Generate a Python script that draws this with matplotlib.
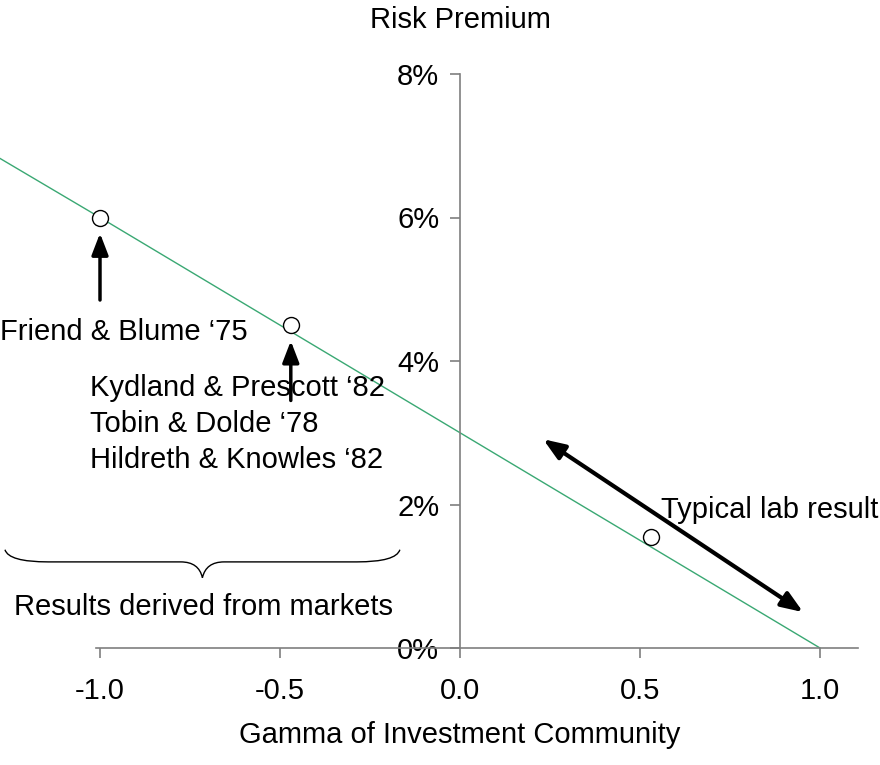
import numpy as np
import matplotlib.pyplot as plt
from matplotlib.path import Path
from matplotlib import patches

plt.rcParams['font.family'] = ['Liberation Sans', 'DejaVu Sans']

# line: risk premium vs gamma
gamma_line = [-1.28, -1.0, -0.5, 0.0, 0.5, 1.0]
premium_line = [6.83, 6.0, 4.5, 3.0, 1.5, 0.0]

# study results
gamma_pts = [-1.0, -0.47, 0.53]
premium_pts = [6.0, 4.5, 1.55]

xticks = [-1.0, -0.5, 0.0, 0.5, 1.0]
xtick_labels = ['-1.0', '-0.5', '0.0', '0.5', '1.0']
yticks = [0, 2, 4, 6, 8]
ytick_labels = ['0%', '2%', '4%', '6%', '8%']

market_studies = ['Kydland & Prescott \u201882', 'Tobin & Dolde \u201878', 'Hildreth & Knowles \u201882']

FS = 21
GRAY = '#7f7f7f'

fig = plt.figure(figsize=(8.8, 7.65), dpi=100)
ax = fig.add_axes([0, 117/765, 1, 574/765])
ax.set_xlim(-460/360, 420/360)
ax.set_ylim(0, 8)

ax.plot(gamma_line, premium_line, color='#3aa873', lw=1.0, clip_on=False, zorder=2)
ax.plot(gamma_pts, premium_pts, 'o', ms=11.5, mfc='white', mec='black', mew=1.0, zorder=3)

# spines through origin
for s in ['top', 'right']:
    ax.spines[s].set_visible(False)
ax.spines['left'].set_position(('data', 0))
ax.spines['left'].set_bounds(0, 8)
ax.spines['bottom'].set_bounds(-1.01, 1.105)
for s in ['left', 'bottom']:
    ax.spines[s].set_color(GRAY)
    ax.spines[s].set_linewidth(1.2)

ax.set_xticks(xticks)
ax.set_xticklabels(xtick_labels)
ax.set_yticks(yticks)
ax.set_yticklabels(ytick_labels)
ax.tick_params(axis='both', direction='out', length=7, width=1.2, color=GRAY, labelsize=FS)
ax.tick_params(axis='x', pad=14)
ax.tick_params(axis='y', pad=8)

fig.text(460/880, 1 - 20/765, 'Risk Premium', ha='center', va='center', fontsize=FS)
fig.text(460/880, 1 - 735/765, 'Gamma of Investment Community', ha='center', va='center', fontsize=FS)

# annotations
arrow_kw = dict(arrowstyle='-|>,head_length=1.3,head_width=0.5', color='black', lw=2.5,
                shrinkA=0, shrinkB=0)
ax.annotate('', xy=(-1.0, 5.78), xytext=(-1.0, 4.85), arrowprops=arrow_kw)
ax.annotate('', xy=(-0.47, 4.28), xytext=(-0.47, 3.45), arrowprops=arrow_kw)
ax.annotate('', xy=(0.231, 2.91), xytext=(0.953, 0.50),
            arrowprops=dict(arrowstyle='<|-|>,head_length=1.3,head_width=0.5', color='black', lw=3,
                            shrinkA=0, shrinkB=0))

ax.text(-1.278, 4.4, 'Friend & Blume \u201875', ha='left', va='center', fontsize=FS)
for i, name in enumerate(market_studies):
    ax.text(-1.028, 3.63 - i * 0.502, name, ha='left', va='center', fontsize=FS)
ax.text(1.163, 1.93, 'Typical lab result', ha='right', va='center', fontsize=FS)
ax.text(-0.712, 0.57, 'Results derived from markets', ha='center', va='center', fontsize=FS)

# curly brace
x0, x1 = -1.264, -0.167
xm = (x0 + x1) / 2
y_top, y_mid, y_tip = 1.37, 1.2, 0.98
codes = [Path.MOVETO, Path.CURVE3, Path.CURVE3,
         Path.LINETO, Path.CURVE3, Path.CURVE3,
         Path.CURVE3, Path.CURVE3, Path.LINETO,
         Path.CURVE3, Path.CURVE3]
verts = [(x0, y_top), (x0 + 0.01, y_mid), (x0 + 0.12, y_mid),
         (xm - 0.06, y_mid), (xm - 0.01, y_mid), (xm, y_tip),
         (xm + 0.01, y_mid), (xm + 0.06, y_mid), (x1 - 0.12, y_mid),
         (x1 - 0.01, y_mid), (x1, y_top)]
ax.add_patch(patches.PathPatch(Path(verts, codes), fill=False, lw=1.0, color='black', clip_on=False))

fig.savefig('out.png', dpi=100)
